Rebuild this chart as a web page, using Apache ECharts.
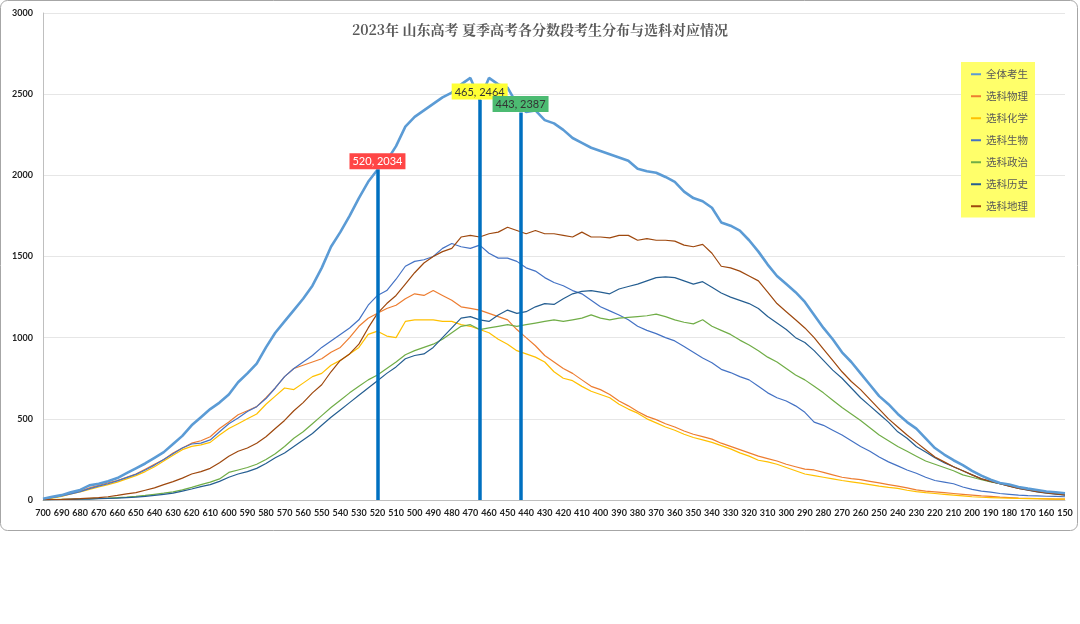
<!DOCTYPE html>
<html>
<head>
<meta charset="utf-8">
<script src="https://cdn.jsdelivr.net/npm/echarts@6/dist/echarts.min.js"></script>
<style>
  html, body { margin: 0; padding: 0; background: #fff; }
  #chart { width: 1080px; height: 624px; }
</style>
</head>
<body>
<div id="chart"></div>
<script>
// 分数段（每5分取一个点）
const scores = [
  700, 695, 690, 685, 680, 675, 670, 665, 660, 655,
  650, 645, 640, 635, 630, 625, 620, 615, 610, 605,
  600, 595, 590, 585, 580, 575, 570, 565, 560, 555,
  550, 545, 540, 535, 530, 525, 520, 515, 510, 505,
  500, 495, 490, 485, 480, 475, 470, 465, 460, 455,
  450, 445, 440, 435, 430, 425, 420, 415, 410, 405,
  400, 395, 390, 385, 380, 375, 370, 365, 360, 355,
  350, 345, 340, 335, 330, 325, 320, 315, 310, 305,
  300, 295, 290, 285, 280, 275, 270, 265, 260, 255,
  250, 245, 240, 235, 230, 225, 220, 215, 210, 205,
  200, 195, 190, 185, 180, 175, 170, 165, 160, 155,
  150
]

const allStudents = [
  8, 20, 30, 48, 62, 90, 100, 115, 135, 165,
  195, 225, 260, 295, 345, 395, 460, 510, 560, 600,
  650, 725, 780, 840, 940, 1030, 1100, 1170, 1240, 1320,
  1430, 1560, 1650, 1750, 1860, 1960, 2034, 2090, 2180, 2300,
  2360, 2400, 2440, 2480, 2510, 2560, 2600, 2464, 2600, 2560,
  2540, 2440, 2390, 2400, 2340, 2320, 2280, 2230, 2200, 2170,
  2150, 2130, 2110, 2090, 2040, 2025, 2016, 1990, 1960, 1900,
  1860, 1840, 1800, 1710, 1690, 1660, 1600, 1530, 1450, 1380,
  1330, 1280, 1220, 1140, 1060, 990, 910, 850, 780, 710,
  640, 590, 530, 480, 440, 380, 320, 280, 245, 215,
  180, 150, 125, 105, 95, 80, 70, 62, 52, 48,
  42
]

const physics = [
  5, 15, 25, 40, 55, 75, 90, 105, 120, 140,
  160, 190, 220, 250, 290, 320, 350, 365, 390, 440,
  480, 525, 550, 575, 630, 690, 760, 810, 830, 850,
  870, 910, 940, 1000, 1070, 1120, 1150, 1180, 1200, 1240,
  1270, 1260, 1290, 1260, 1230, 1190, 1180, 1170, 1150, 1130,
  1110, 1050, 1000, 950, 890, 850, 810, 780, 740, 700,
  680, 650, 610, 580, 545, 515, 495, 470, 450, 425,
  405, 390, 375, 350, 330, 310, 290, 270, 255, 240,
  220, 205, 190, 185, 170, 155, 140, 132, 125, 115,
  105, 95, 85, 75, 62, 55, 50, 45, 40, 35,
  30, 25, 22, 18, 15, 12, 10, 8, 7, 6,
  5
]

const chemistry = [
  5, 12, 22, 38, 50, 65, 80, 95, 110, 130,
  150, 175, 205, 240, 275, 310, 330, 340, 355, 400,
  440, 470, 500, 530, 590, 640, 690, 680, 720, 760,
  780, 830, 860, 900, 940, 1020, 1040, 1010, 1000, 1100,
  1110, 1110, 1110, 1100, 1100, 1080, 1070, 1050, 1030, 990,
  960, 920, 900, 880, 850, 790, 750, 735, 700, 670,
  650, 630, 590, 560, 535, 500, 475, 450, 430, 405,
  385, 370, 355, 335, 315, 290, 270, 245, 235, 220,
  200, 180, 160, 150, 140, 130, 120, 112, 104, 95,
  85, 78, 72, 60, 52, 45, 40, 35, 30, 25,
  20, 17, 15, 13, 12, 10, 9, 8, 7, 6,
  5
]

const biology = [
  5, 15, 25, 38, 52, 70, 85, 100, 118, 138,
  158, 185, 215, 250, 285, 320, 345, 350, 370, 420,
  470, 505, 545, 575, 625, 690, 760, 810, 850, 890,
  940, 980, 1020, 1060, 1110, 1200, 1260, 1290, 1360, 1440,
  1470, 1480, 1500, 1550, 1580, 1560, 1550, 1570, 1520, 1490,
  1490, 1470, 1430, 1410, 1370, 1340, 1320, 1290, 1270, 1230,
  1190, 1165, 1140, 1110, 1070, 1045, 1025, 1000, 980, 945,
  910, 875, 845, 805, 785, 760, 740, 700, 660, 630,
  610, 580, 540, 480, 460, 430, 400, 365, 330, 300,
  265, 235, 210, 185, 165, 140, 120, 110, 100, 80,
  65, 55, 48, 40, 35, 30, 27, 25, 23, 22,
  20
]

const politics = [
  2, 3, 4, 5, 6, 8, 10, 12, 15, 18,
  22, 28, 35, 42, 50, 62, 78, 95, 110, 130,
  170, 185, 200, 220, 250, 285, 330, 380, 420, 470,
  520, 570, 615, 660, 700, 740, 770, 810, 850, 895,
  920, 940, 960, 990, 1030, 1070, 1080, 1050, 1060, 1070,
  1080, 1070, 1080, 1090, 1100, 1110, 1100, 1110, 1120, 1140,
  1120, 1110, 1120, 1125, 1130, 1135, 1145, 1130, 1110, 1095,
  1085, 1110, 1070, 1045, 1020, 985, 955, 920, 880, 850,
  810, 770, 740, 700, 660, 615, 570, 530, 490, 445,
  400, 365, 330, 300, 270, 240, 220, 200, 180, 155,
  140, 125, 112, 100, 90, 80, 68, 55, 48, 42,
  35
]

const history = [
  1, 2, 3, 4, 5, 6, 8, 10, 12, 15,
  18, 22, 28, 35, 42, 55, 68, 82, 95, 115,
  140, 160, 175, 195, 225, 260, 290, 330, 370, 410,
  460, 510, 555, 600, 645, 690, 735, 780, 820, 870,
  890, 900, 940, 1000, 1060, 1120, 1130, 1110, 1100, 1140,
  1170, 1150, 1160, 1190, 1210, 1205, 1240, 1270, 1285, 1290,
  1280, 1270, 1300, 1315, 1330, 1350, 1370, 1375, 1370, 1350,
  1330, 1345, 1310, 1275, 1250, 1230, 1210, 1180, 1130, 1090,
  1050, 1000, 970, 920, 860, 800, 750, 690, 630, 580,
  530, 480, 420, 380, 330, 295, 260, 230, 205, 180,
  155, 130, 115, 100, 85, 72, 60, 50, 42, 36,
  30
]

const geography = [
  2, 3, 4, 6, 8, 12, 15, 20, 28, 38,
  45, 60, 75, 95, 113, 135, 160, 175, 195, 230,
  270, 300, 320, 350, 390, 440, 490, 550, 600, 660,
  710, 790, 860, 900, 960, 1060, 1150, 1210, 1260, 1330,
  1400, 1460, 1500, 1530, 1550, 1620, 1630, 1620, 1640, 1650,
  1680, 1660, 1640, 1660, 1640, 1640, 1630, 1620, 1650, 1620,
  1620, 1615, 1630, 1630, 1600, 1610, 1600, 1600, 1595, 1570,
  1560, 1575, 1520, 1440, 1430, 1410, 1380, 1350, 1280, 1210,
  1160, 1110, 1060, 1000, 930, 860, 790, 730, 680, 620,
  560, 500, 450, 400, 355, 310, 265, 235, 205, 180,
  155, 130, 115, 100, 85, 72, 62, 52, 44, 38,
  32
]

const seriesNames = ['全体考生', '选科物理', '选科化学', '选科生物', '选科政治', '选科历史', '选科地理']
const seriesValues = [allStudents, physics, chemistry, biology, politics, history, geography]
const seriesColors = ['#5b9bd5', '#ed7d31', '#ffc000', '#4472c4', '#70ad47', '#255e91', '#9e480e']

// 标注点
const markScores = [520, 465, 443]
const markCounts = [2034, 2464, 2387]
const markColors = ['#ff4646', '#ffff33', '#4cbb72']
const markTextColors = ['#ffffff', '#333333', '#333333']

const chart = echarts.init(document.getElementById('chart'))

const toPairs = vals => scores.map((s, i) => [s, vals[i]])

const lines = seriesNames.map((name, i) => ({
  name,
  type: 'line',
  data: toPairs(seriesValues[i]),
  showSymbol: false,
  symbol: 'none',
  color: seriesColors[i],
  lineStyle: { width: i === 0 ? 2.6 : 1.2, color: seriesColors[i] },
  z: i === 0 ? 3 : 2
}))

lines.push({
  name: 'marks',
  type: 'line',
  data: markScores.map((s, i) => [s, markCounts[i]]),
  symbol: 'none',
  lineStyle: { opacity: 0 },
  silent: true,
  z: 5,
  markLine: {
    symbol: 'none',
    silent: true,
    lineStyle: { color: '#0070c0', width: 3.5, type: 'solid' },
    label: { show: false },
    data: markScores.map((s, i) => [{ coord: [s, 0] }, { coord: [s, markCounts[i]] }])
  },
  markPoint: {
    symbol: 'circle',
    symbolSize: 1,
    itemStyle: { color: 'transparent' },
    label: {
      show: true,
      position: 'top',
      distance: 0,
      fontSize: 11,
      fontFamily: 'Lato',
      padding: [3, 3, 2, 3],
      formatter: p => p.name
    },
    data: markScores.map((s, i) => ({
      name: s + ', ' + markCounts[i],
      coord: [s, markCounts[i]],
      label: { backgroundColor: markColors[i], color: markTextColors[i] }
    }))
  }
})

chart.setOption({
  animation: false,
  title: {
    text: '2023年 山东高考 夏季高考各分数段考生分布与选科对应情况',
    left: 'center',
    top: 18,
    textStyle: {
      fontSize: 14,
      fontWeight: 'bold',
      color: '#595959',
      fontFamily: '"Noto Serif CJK SC", "Noto Sans CJK SC", serif'
    }
  },
  legend: {
    data: seriesNames,
    orient: 'vertical',
    left: 961,
    top: 62,
    padding: [7, 7, 6, 10],
    itemGap: 11.5,
    itemWidth: 10,
    itemHeight: 2,
    icon: 'rect',
    backgroundColor: '#ffff6a',
    textStyle: { fontSize: 10.5, color: '#595959', fontFamily: 'Noto Sans CJK SC' }
  },
  graphic: [{
    type: 'rect',
    shape: { x: 0.5, y: 0.5, width: 1077, height: 530, r: 7 },
    style: { fill: 'none', stroke: '#a6a6a6', lineWidth: 1 },
    silent: true
  }],
  grid: { left: 43, right: 15, top: 13, bottom: 124 },
  xAxis: {
    type: 'value',
    inverse: true,
    min: 150,
    max: 700,
    interval: 10,
    axisLine: { lineStyle: { color: '#bfbfbf' } },
    axisTick: { show: false },
    splitLine: { show: false },
    axisLabel: { fontSize: 9, fontWeight: 'bold', color: '#222', fontFamily: 'Lato', margin: 9 }
  },
  yAxis: {
    type: 'value',
    min: 0,
    max: 3000,
    interval: 500,
    axisLine: { show: true, lineStyle: { color: '#bfbfbf' } },
    axisTick: { show: false },
    splitLine: { lineStyle: { color: '#e6e6e6' } },
    axisLabel: {
      fontSize: 9,
      fontWeight: 'bold',
      color: '#222',
      fontFamily: 'Lato',
      margin: 10,
      formatter: v => String(v)
    }
  },
  series: lines
})
</script>
</body>
</html>
